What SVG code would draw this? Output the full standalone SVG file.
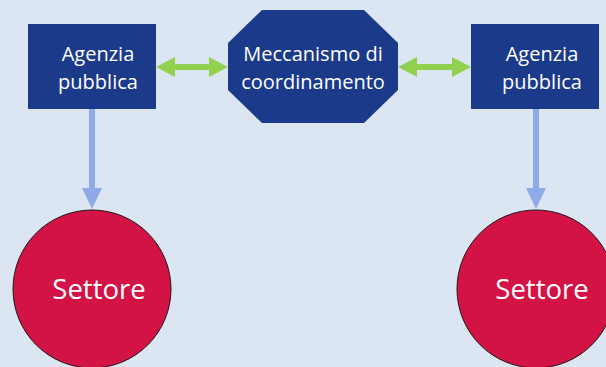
<svg xmlns="http://www.w3.org/2000/svg" width="606" height="367" viewBox="0 0 606 367">
<style>
.box{fill:#1b3a8a}
.lbl{font-family:"Open Sans","Noto Sans",sans-serif;font-size:20px;fill:#ffffff;text-anchor:middle}
.big{font-family:"Open Sans","Noto Sans",sans-serif;font-size:27.5px;fill:#ffffff;text-anchor:middle}
.circ{fill:#d31245;stroke:#1a1a1a;stroke-width:1}
.green{fill:#92d050}
.blue{fill:#8eaae8}
</style>
<rect width="606" height="367" fill="#dce6f2"/>
<g id="connectors">
<polygon class="green" points="156,67 175,57 175,64 209,64 209,57 228,67 209,77 209,70 175,70 175,77"/>
<polygon class="green" points="398,67 417,57 417,64 452,64 452,57 471,67 452,77 452,70 417,70 417,77"/>
<polygon class="blue" points="89,109 95,109 95,188 102,188 92,209 82,188 89,188"/>
<polygon class="blue" points="533,109 539,109 539,188 546,188 536,209 526,188 533,188"/>
</g>
<g id="agenzia-left">
<rect class="box" x="28" y="24" width="128" height="85"/>
<text class="lbl" x="98" y="61">Agenzia</text>
<text class="lbl" x="98" y="89">pubblica</text>
</g>
<g id="meccanismo">
<polygon class="box" points="262,10 364,10 398,43 398,90 364,123 262,123 228,90 228,43"/>
<text class="lbl" x="313" y="61">Meccanismo di</text>
<text class="lbl" x="313" y="89">coordinamento</text>
</g>
<g id="agenzia-right">
<rect class="box" x="471" y="24" width="128" height="85"/>
<text class="lbl" x="542" y="61">Agenzia</text>
<text class="lbl" x="542" y="89">pubblica</text>
</g>
<g id="settore-left">
<circle class="circ" cx="92" cy="289" r="79"/>
<text class="big" x="99" y="299">Settore</text>
</g>
<g id="settore-right">
<circle class="circ" cx="536" cy="289" r="79"/>
<text class="big" x="542" y="299">Settore</text>
</g>
</svg>
